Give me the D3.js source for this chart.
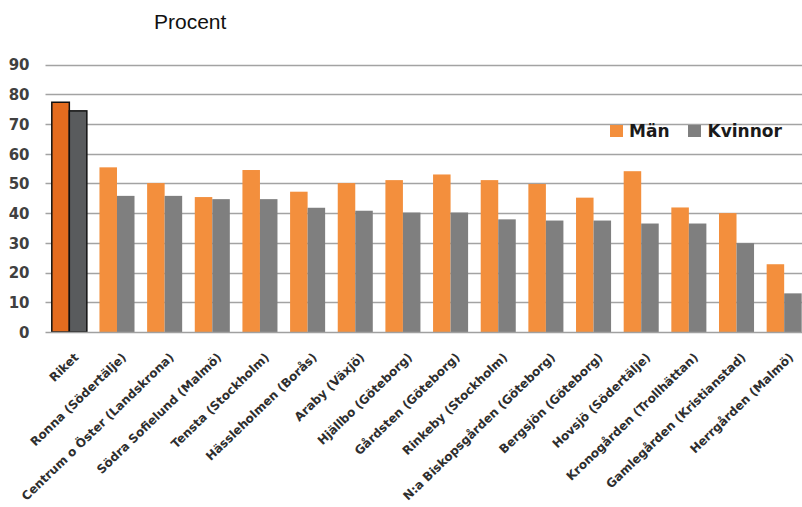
<!DOCTYPE html>
<html>
<head>
<meta charset="utf-8">
<script src="https://cdn.jsdelivr.net/npm/d3@7"></script>
<style>
  html, body { margin: 0; padding: 0; background: #fff; }
  svg { display: block; }
</style>
</head>
<body>
<svg id="chart" width="802" height="507"></svg>
<script>
const categories = [
  "Riket", "Ronna (Södertälje)", "Centrum o Öster (Landskrona)", "Södra Sofielund (Malmö)",
  "Tensta (Stockholm)", "Hässleholmen (Borås)", "Araby (Växjö)", "Hjällbo (Göteborg)",
  "Gårdsten (Göteborg)", "Rinkeby (Stockholm)", "N:a Biskopsgården (Göteborg)", "Bergsjön (Göteborg)",
  "Hovsjö (Södertälje)", "Kronogården (Trollhättan)", "Gamlegården (Kristianstad)", "Herrgården (Malmö)"
];
const seriesNames = ["Män", "Kvinnor"];
const man = [77.3, 55.4, 50.1, 45.4, 54.5, 47.2, 50.1, 51.1, 53.0, 51.1, 49.8, 45.2, 54.1, 41.9, 40.0, 22.8];
const kvinnor = [74.4, 45.8, 45.8, 44.7, 44.7, 41.8, 40.8, 40.2, 40.2, 37.9, 37.5, 37.5, 36.5, 36.5, 29.9, 13.0];
const yTicks = [0, 10, 20, 30, 40, 50, 60, 70, 80, 90];
const title = "Procent";

(function () {
const svg = d3.select("#chart");
const pLeft = 45.5, pRight = 808, pTop = 64.5, pBottom = 332;

const x0 = d3.scaleBand().domain(categories).range([pLeft, pRight]).padding(0);
const x1 = d3.scaleBand().domain(seriesNames).range([0, x0.bandwidth()]).paddingInner(0).paddingOuter(0.36);
const y = d3.scaleLinear().domain([0, 90]).range([pBottom, pTop]);

const colors = { "Män": "#f38f3d", "Kvinnor": "#7f7f7f" };
const highlight = { "Män": "#e46c1f", "Kvinnor": "#595b5d" };

// title
svg.append("text").attr("x", 154).attr("y", 28.5)
  .attr("font-family", "Liberation Sans, Arial, sans-serif").attr("font-size", 21)
  .attr("fill", "#111").text(title);

// gridlines
svg.append("g").selectAll("line").data(yTicks.slice(1)).join("line")
  .attr("x1", pLeft).attr("x2", 802)
  .attr("y1", d => Math.round(y(d)) + 0.5).attr("y2", d => Math.round(y(d)) + 0.5)
  .attr("stroke", "#a3a3a3").attr("stroke-width", 1.5);

// y axis labels
const yAxis = d3.axisLeft(y).tickValues(yTicks).tickSize(0).tickPadding(0).tickFormat(d3.format("d"));
const gy = svg.append("g").attr("transform", "translate(29.5,0)").call(yAxis);
gy.select(".domain").remove();
gy.selectAll("text").attr("font-family", "DejaVu Sans, sans-serif").attr("font-weight", "bold")
  .attr("font-size", 15).attr("fill", "#404040").attr("dy", "0.36em");

// bars
const data = categories.map((c, i) => ({ c, i, vals: [{ s: "Män", v: man[i] }, { s: "Kvinnor", v: kvinnor[i] }] }));
const groups = svg.append("g").selectAll("g").data(data).join("g")
  .attr("transform", d => `translate(${x0(d.c)},0)`);
groups.selectAll("rect").data(d => d.vals.map(v => ({ ...v, i: d.i }))).join("rect")
  .attr("x", d => x1(d.s)).attr("width", x1.bandwidth())
  .attr("y", d => y(d.v)).attr("height", d => y(0) - y(d.v))
  .attr("fill", d => d.i === 0 ? highlight[d.s] : colors[d.s])
  .attr("stroke", d => d.i === 0 ? "#111" : "none")
  .attr("stroke-width", d => d.i === 0 ? 1.5 : 0);

// x axis line
svg.append("line").attr("x1", pLeft).attr("x2", 802).attr("y1", pBottom + 0.5).attr("y2", pBottom + 0.5)
  .attr("stroke", "#a0a0a0").attr("stroke-width", 1.5);

// x labels
const xAxis = d3.axisBottom(x0).tickSize(0).tickPadding(0);
const gx = svg.append("g").attr("transform", `translate(0,${pBottom})`).call(xAxis);
gx.select(".domain").remove();
gx.selectAll(".tick text")
  .attr("font-family", "DejaVu Sans, sans-serif").attr("font-weight", "bold")
  .attr("font-size", 12).attr("fill", "#2e2e2e")
  .attr("text-anchor", "end")
  .attr("x", 0).attr("y", 0).attr("dy", "0.72em")
  .attr("transform", "translate(4,20) rotate(-44)");

// legend
const legend = svg.append("g");
const legendItems = [{ s: "Män", x: 610, tx: 629 }, { s: "Kvinnor", x: 688, tx: 707.5 }];
legendItems.forEach(it => {
  legend.append("rect").attr("x", it.x).attr("y", 125).attr("width", 13).attr("height", 12)
    .attr("fill", colors[it.s]);
  legend.append("text").attr("x", it.tx).attr("y", 137)
    .attr("font-family", "DejaVu Sans, sans-serif").attr("font-weight", "bold")
    .attr("font-size", 17).attr("fill", "#1a1a1a").text(it.s);
});
})();
</script>
</body>
</html>
